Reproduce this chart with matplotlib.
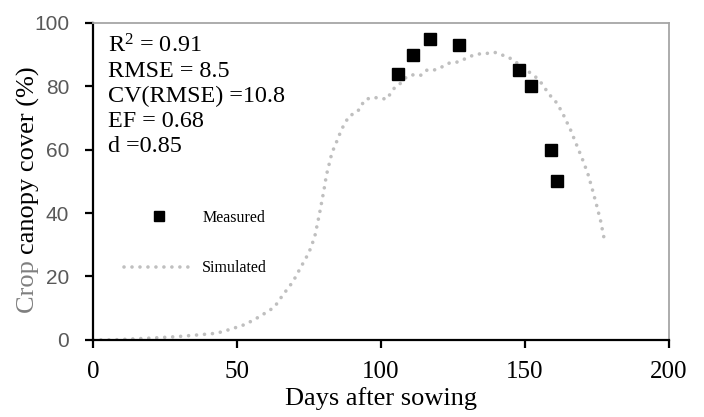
import matplotlib
matplotlib.use('Agg')
import matplotlib.pyplot as plt
from matplotlib.lines import Line2D

plt.rcParams['font.family'] = 'Liberation Serif'
plt.rcParams['mathtext.fontset'] = 'custom'
plt.rcParams['mathtext.rm'] = 'Liberation Serif'
plt.rcParams['mathtext.it'] = 'Liberation Serif:italic'

# simulated canopy cover (days after sowing, %)
sim_days = [0, 7, 14, 21, 29, 37, 43, 48, 53, 58, 63, 66, 69.5, 72, 75, 77, 78.6,
            80.2, 81.1, 83, 84.4, 86.4, 89, 91.3, 93, 94.1, 96.4, 99.3, 102, 103.4,
            105.1, 107.3, 108.9, 111.5, 114.1, 116.1, 118.8, 121.4, 123.7, 126.3,
            128.8, 131.5, 134.1, 136.9, 139.6, 142.1, 144.8, 147.1, 149.4, 151.5,
            153.8, 155.6, 157.2, 158.9, 160.7, 162.2, 163.5, 165.9, 167.9, 170,
            171.9, 173.5, 174.9, 176.3, 177.4, 178]
sim_cover = [0, 0, 0.3, 0.6, 1, 1.6, 2.1, 3.4, 4.9, 7.4, 10.3, 14.2, 18.4, 22.6, 27.5,
             32.4, 39.4, 47.1, 52, 59, 62, 66.5, 70.7, 71.6, 73.2, 75.5, 76.4, 76.4,
             75.9, 77.8, 80, 81.2, 83, 83.7, 83.5, 85.2, 85.2, 86.2, 87.3, 87.6, 88.5,
             89.6, 90.2, 90.4, 90.7, 89.9, 88.9, 87.5, 86.2, 84.5, 82.9, 81.2, 79.1,
             77, 75.2, 73, 70.8, 66.2, 61.7, 57, 52.4, 47.3, 42.6, 37.6, 32.6, 30.2]

# field measurements
meas_days = [106, 111, 117, 127, 148, 152, 159, 161]
meas_cover = [84, 90, 95, 93, 85, 80, 60, 50]

stats = ['R$^2$ = 0.91', 'RMSE = 8.5', 'CV(RMSE) =10.8', 'EF = 0.68', 'd =0.85']

fig = plt.figure(figsize=(7.04, 4.17), dpi=100)
ax = fig.add_axes([0.132, 0.185, 0.818, 0.76])

dotted = (0, (0.01, 2.2))
ax.plot(sim_days, sim_cover, color='#BFBFBF', lw=2.6, linestyle=dotted,
        dash_capstyle='round', zorder=2)
ax.plot(meas_days, meas_cover, linestyle='none', marker='s', color='black',
        markersize=8.5, zorder=3)

ax.set_xlim(0, 200)
ax.set_ylim(0, 100)
ax.set_xticks([0, 50, 100, 150, 200])
ax.set_yticks([0, 20, 40, 60, 80, 100])

for side in ['left', 'bottom']:
    ax.spines[side].set_color('black')
    ax.spines[side].set_linewidth(1.6)
for side in ['top', 'right']:
    ax.spines[side].set_color('#A6A6A6')
    ax.spines[side].set_linewidth(1.3)

ax.tick_params(axis='x', direction='out', length=6, width=1.6, labelsize=18,
               pad=9, colors='black')
ax.tick_params(axis='y', direction='out', length=6, width=1.6, pad=11, color='black')
for lbl in ax.get_yticklabels():
    lbl.set_fontfamily('Liberation Sans')
    lbl.set_fontsize(15)
    lbl.set_color('#595959')

ax.set_xlabel('Days after sowing', fontsize=19, labelpad=3)

ax.text(0.026, 0.965, '\n'.join(stats), transform=ax.transAxes, va='top',
        ha='left', fontsize=17.4, linespacing=1.24)

handles = [Line2D([], [], linestyle='none', marker='s', color='black', markersize=6.5),
           Line2D([], [], color='#BFBFBF', lw=2.6, linestyle=dotted,
                  dash_capstyle='round')]
ax.legend(handles, ['Measured', 'Simulated'], loc='upper left',
          bbox_to_anchor=(0.04, 0.435), frameon=False, fontsize=11.5,
          handlelength=4.4, handletextpad=0.5, labelspacing=2.15, borderpad=0)

# y label: first word grey, rest black
y0 = 0.249
t1 = fig.text(0.040, y0, 'Crop ', rotation=90, ha='center', va='bottom',
              fontsize=19, color='#7F7F7F')
fig.canvas.draw()
bb = t1.get_window_extent().transformed(fig.transFigure.inverted())
fig.text(0.040, bb.y1, 'canopy cover (%)', rotation=90, ha='center', va='bottom',
         fontsize=19, color='black')

fig.savefig('out.png', dpi=100)
